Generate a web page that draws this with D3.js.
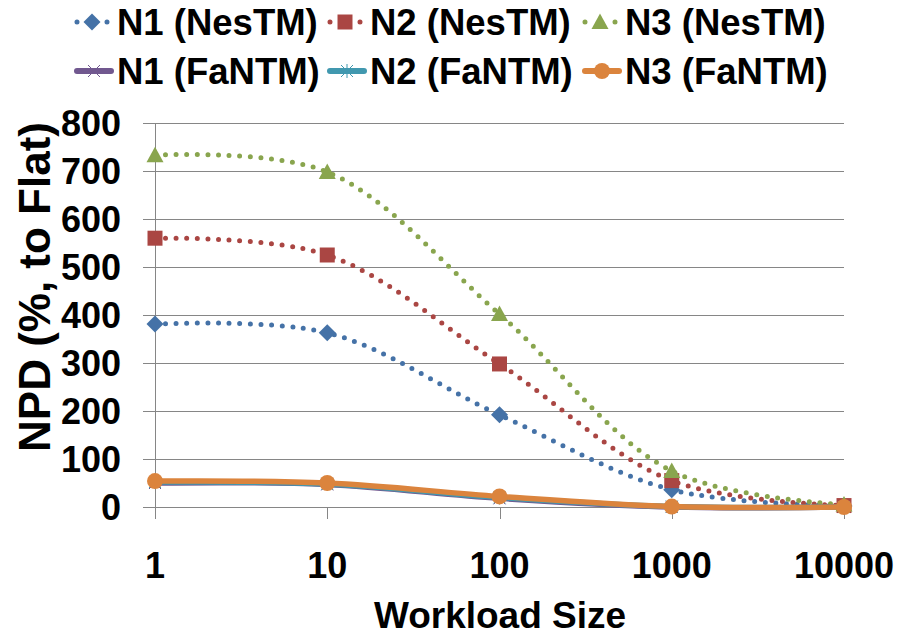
<!DOCTYPE html>
<html>
<head>
<meta charset="utf-8">
<script src="https://cdn.jsdelivr.net/npm/d3@7"></script>
<style>
  body { margin: 0; background: #fff; }
  text { font-family: "Liberation Sans", Arial, sans-serif; font-weight: bold; fill: #000; }
</style>
</head>
<body>
<svg id="chart" width="899" height="635"></svg>
<script>
// workload sizes (category axis)
const sizes = ['1', '10', '100', '1000', '10000'];
const yTicks = [0, 100, 200, 300, 400, 500, 600, 700, 800];

// NPD values
const n1Nes = [381, 363, 192, 36, 2];
const n2Nes = [560, 525, 298, 55, 3];
const n3Nes = [733, 698, 402, 75, 5];
const n1Fa = [50, 47, 18, 0, 0];
const n2Fa = [52, 48, 20, 1, 0];
const n3Fa = [54, 50, 22, 1, 0];

const seriesNames = ['N1 (NesTM)', 'N2 (NesTM)', 'N3 (NesTM)', 'N1 (FaNTM)', 'N2 (FaNTM)', 'N3 (FaNTM)'];
const seriesValues = [n1Nes, n2Nes, n3Nes, n1Fa, n2Fa, n3Fa];
const colors = ['#4572A7', '#AA4643', '#89A54E', '#71588F', '#4198AF', '#DB843D'];
const markers = ['diamond', 'square', 'triangle', 'cross', 'star', 'circle'];

const svg = d3.select('#chart');
const plotLeft = 155;
const plotRight = 844;
const plotTop = 123;
const plotBottom = 507;

const x = d3.scalePoint().domain(sizes).range([plotLeft, plotRight]);
const y = d3.scaleLinear().domain([0, 800]).range([plotBottom, plotTop]);

const gridColor = '#868686';
const crisp = (v) => Math.round(v) + 0.5;

// gridlines + y ticks
svg.append('g')
  .selectAll('line')
  .data(yTicks)
  .join('line')
  .attr('x1', plotLeft - 12)
  .attr('x2', plotRight)
  .attr('y1', (d) => crisp(y(d)))
  .attr('y2', (d) => crisp(y(d)))
  .attr('stroke', gridColor)
  .attr('stroke-width', 1);

// y axis line
svg.append('line')
  .attr('x1', crisp(plotLeft)).attr('x2', crisp(plotLeft))
  .attr('y1', plotTop).attr('y2', crisp(plotBottom))
  .attr('stroke', gridColor);

// category ticks
svg.append('g')
  .selectAll('line')
  .data(sizes)
  .join('line')
  .attr('x1', (d) => crisp(x(d)))
  .attr('x2', (d) => crisp(x(d)))
  .attr('y1', crisp(plotBottom))
  .attr('y2', plotBottom + 12)
  .attr('stroke', gridColor);

// y tick labels
svg.append('g')
  .selectAll('text')
  .data(yTicks)
  .join('text')
  .attr('x', 121)
  .attr('y', (d) => y(d) + 12.5)
  .attr('text-anchor', 'end')
  .style('font-size', '36px')
  .text((d) => d);

// x tick labels
svg.append('g')
  .selectAll('text')
  .data(sizes)
  .join('text')
  .attr('x', (d) => x(d))
  .attr('y', 578)
  .attr('text-anchor', 'middle')
  .style('font-size', '36px')
  .text((d) => d);

// axis titles
svg.append('text')
  .attr('x', 500)
  .attr('y', 628)
  .attr('text-anchor', 'middle')
  .style('font-size', '37px')
  .text('Workload Size');

svg.append('text')
  .attr('transform', 'translate(50,287) rotate(-90)')
  .attr('text-anchor', 'middle')
  .style('font-size', '44px')
  .text('NPD (%, to Flat)');

const markerPath = (type) => {
  switch (type) {
    case 'diamond': return 'M0,-8.5L8.5,0L0,8.5L-8.5,0Z';
    case 'square': return 'M-7.5,-7.5H7.5V7.5H-7.5Z';
    case 'triangle': return 'M0,-8.5L8.5,7L-8.5,7Z';
    case 'cross': return 'M-6,-6L6,6M-6,6L6,-6';
    case 'star': return 'M-6,-6L6,6M-6,6L6,-6M0,-7V7';
    default: return d3.symbol(d3.symbolCircle, 200)();
  }
};

const drawMarker = (sel, i) => {
  const type = markers[i];
  const open = type === 'cross' || type === 'star';
  sel.attr('d', markerPath(type))
    .attr('fill', open ? 'none' : colors[i])
    .attr('stroke', colors[i])
    .attr('stroke-width', open ? 1 : 0);
};

const line = d3.line()
  .x((d, j) => x(sizes[j]))
  .y((d) => y(d))
  .curve(d3.curveCatmullRom.alpha(0.5));

seriesValues.forEach((vals, i) => {
  const g = svg.append('g');
  const dotted = i < 3;
  g.append('path')
    .attr('d', line(vals))
    .attr('fill', 'none')
    .attr('stroke', colors[i])
    .attr('stroke-width', dotted ? 5 : 5.5)
    .attr('stroke-linecap', 'round')
    .attr('stroke-dasharray', dotted ? '0 10.6' : null);
  g.selectAll('path.m')
    .data(vals)
    .join('path')
    .attr('class', 'm')
    .attr('transform', (d, j) => `translate(${x(sizes[j])},${y(d)})`)
    .call(drawMarker, i);
});

// legend
const legendX = [117, 370, 625];
const legendY = [22, 71];
const legend = svg.append('g')
  .selectAll('g')
  .data(seriesNames)
  .join('g')
  .attr('transform', (d, i) => `translate(${legendX[i % 3]},${legendY[Math.floor(i / 3)]})`);

legend.append('line')
  .attr('x1', -40)
  .attr('x2', (d, i) => (i < 3 ? -8 : -6))
  .attr('stroke', (d, i) => colors[i])
  .attr('stroke-width', (d, i) => (i < 3 ? 5 : 6))
  .attr('stroke-linecap', 'round')
  .attr('stroke-dasharray', (d, i) => (i < 3 ? '0 15' : null));

legend.append('path')
  .attr('transform', (d, i) => `translate(${i < 3 ? -25 : -23},0)`)
  .each(function (d, i) { d3.select(this).call(drawMarker, i); });

legend.append('text')
  .attr('x', 0)
  .attr('y', 13)
  .style('font-size', '36.5px')
  .text((d) => d);
</script>
</body>
</html>
